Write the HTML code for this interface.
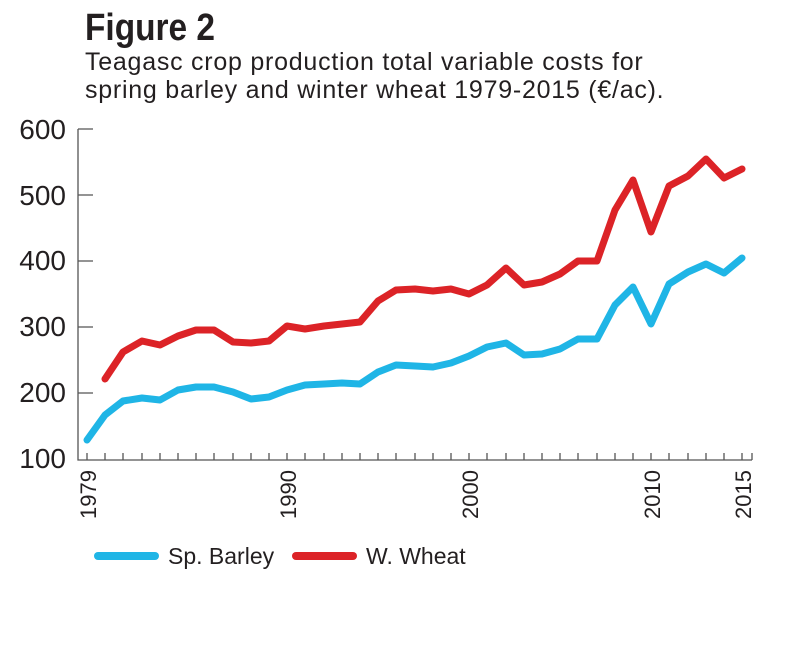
<!DOCTYPE html>
<html><head><meta charset="utf-8"><style>
body{margin:0;width:790px;height:660px;background:#fff;overflow:hidden}
</style></head><body>
<svg width="790" height="660" xmlns="http://www.w3.org/2000/svg" font-family="Liberation Sans, sans-serif">
<text x="85" y="40" font-size="38" font-weight="bold" fill="#231f20" transform="translate(85,0) scale(0.88,1) translate(-85,0)">Figure 2</text>
<text x="85" y="70" font-size="25" fill="#231f20" letter-spacing="0.75">Teagasc crop production total variable costs for</text>
<text x="85" y="98" font-size="25" fill="#231f20" letter-spacing="0.75">spring barley and winter wheat 1979-2015 (€/ac).</text>
<g font-size="28" fill="#231f20" text-anchor="end">
<text x="66" y="139">600</text><text x="66" y="205">500</text><text x="66" y="270">400</text>
<text x="66" y="336">300</text><text x="66" y="402">200</text><text x="66" y="468">100</text>
</g>
<g stroke="#555" stroke-width="1.3" fill="none">
<path d="M78 129V460H752"/>
<path d="M78 129H93M78 195H93M78 261H93M78 327H93M78 393H93"/>
<path d="M87 460v-7M105 460v-7M123 460v-7M142 460v-7M160 460v-7M178 460v-7M196 460v-7M214 460v-7M233 460v-7M251 460v-7M269 460v-7M287 460v-7M305 460v-7M324 460v-7M342 460v-7M360 460v-7M378 460v-7M396 460v-7M415 460v-7M433 460v-7M451 460v-7M469 460v-7M487 460v-7M506 460v-7M524 460v-7M542 460v-7M560 460v-7M578 460v-7M597 460v-7M615 460v-7M633 460v-7M651 460v-7M669 460v-7M688 460v-7M706 460v-7M724 460v-7M742 460v-7M752 460v-7"/>
</g>
<g font-size="22" fill="#231f20" text-anchor="end">
<text transform="translate(96,470) rotate(-90)">1979</text>
<text transform="translate(296,470) rotate(-90)">1990</text>
<text transform="translate(478,470) rotate(-90)">2000</text>
<text transform="translate(660,470) rotate(-90)">2010</text>
<text transform="translate(751,470) rotate(-90)">2015</text>
</g>
<polyline fill="none" stroke="#1fb5e6" stroke-width="7" stroke-linejoin="round" stroke-linecap="round"
points="87,440 105,415 123,401 142,398 160,400 178,390 196,387 214,387 233,392 251,399 269,397 287,390 305,385 324,384 342,383 360,384 378,372 396,365 415,366 433,367 451,363 469,356 487,347 506,343 524,355 542,354 560,349 578,339 597,339 615,305 633,287 651,324 669,284 688,272 706,264 724,273 742,258"/>
<polyline fill="none" stroke="#dc2327" stroke-width="7" stroke-linejoin="round" stroke-linecap="round"
points="105,379 123,352 142,341 160,345 178,336 196,330 214,330 233,342 251,343 269,341 287,326 305,329 324,326 342,324 360,322 378,301 396,290 415,289 433,291 451,289 469,294 487,285 506,268 524,285 542,282 560,274 578,261 597,261 615,210 633,180 651,232 669,186 688,176 706,159 724,178 742,169"/>
<line x1="98" y1="556" x2="155" y2="556" stroke="#1fb5e6" stroke-width="8" stroke-linecap="round"/>
<text x="168" y="564" font-size="23" fill="#231f20">Sp. Barley</text>
<line x1="296" y1="556" x2="353" y2="556" stroke="#dc2327" stroke-width="8" stroke-linecap="round"/>
<text x="366" y="564" font-size="23" fill="#231f20">W. Wheat</text>
</svg>
</body></html>
